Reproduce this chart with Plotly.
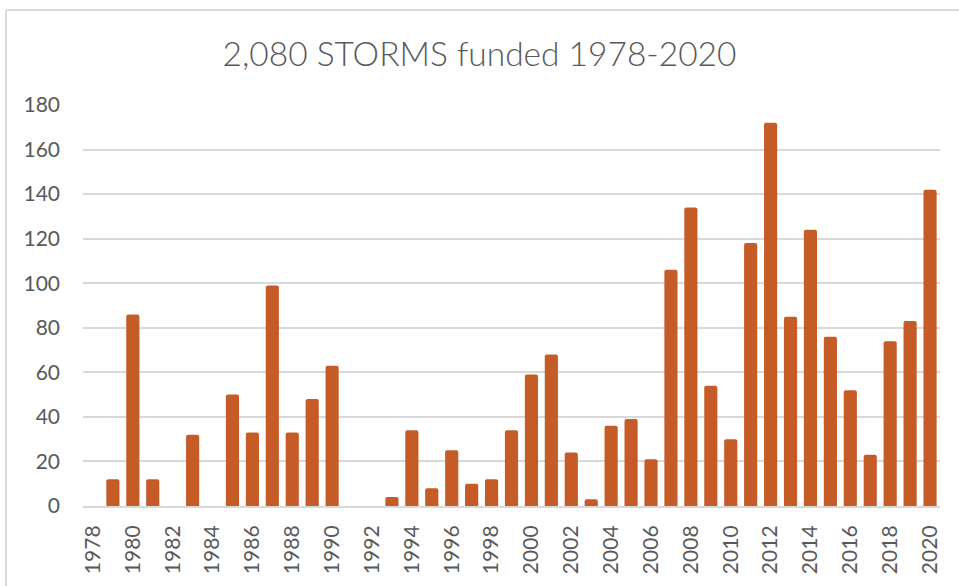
import plotly.graph_objects as go

years = list(range(1978, 2021))
storms = [0, 12, 86, 12, 0, 32, 0, 50, 33, 99, 33, 48, 63,
          0, 0, 4, 34, 8, 25, 10, 12, 34, 59, 68, 24, 3, 36, 39, 21,
          106, 134, 54, 30, 118, 172, 85, 124, 76, 52, 23, 74, 83, 142]
title_text = "2,080 STORMS funded 1978-2020"
y_ticks = list(range(0, 181, 20))
x_ticks = list(range(1978, 2021, 2))

BAR = "#C55C28"
GRID = "#D9D9D9"
TXT = "#595959"
FONT = "Lato"

fig = go.Figure(go.Bar(
    x=years, y=storms,
    marker=dict(color=BAR, line=dict(width=0), cornerradius=2),
    width=0.66,
))

W, H = 959, 586
ml, mr, mt, mb = 83, 19, 105, 76
pw, ph = W - ml - mr, H - mt - mb

def px_to_paper_x(px):
    return (px - ml) / pw

def px_to_paper_y(py):
    return (H - mb - py) / ph

fig.update_layout(
    width=W, height=H,
    margin=dict(l=ml, r=mr, t=mt, b=mb, pad=0),
    paper_bgcolor="white", plot_bgcolor="white",
    showlegend=False,
    font=dict(family=FONT, color=TXT, size=21),
    title=dict(text=title_text, x=0.5, xref="container", xanchor="center",
               y=1 - 54 / H, yanchor="middle",
               font=dict(family=FONT, size=33.5, color=TXT, weight=300)),
    bargap=0.34,
    shapes=[
        dict(type="line", xref="paper", yref="paper",
             x0=px_to_paper_x(6), x1=px_to_paper_x(970),
             y0=px_to_paper_y(9), y1=px_to_paper_y(9),
             line=dict(color=GRID, width=2)),
        dict(type="line", xref="paper", yref="paper",
             x0=px_to_paper_x(6), x1=px_to_paper_x(6),
             y0=px_to_paper_y(9), y1=px_to_paper_y(600),
             line=dict(color=GRID, width=2)),
    ],
)

fig.update_xaxes(
    type="linear", range=[1977.5, 2020.5],
    tickmode="array", tickvals=x_ticks, ticktext=[str(v) for v in x_ticks],
    tickangle=-90, showgrid=False, zeroline=False,
    showline=True, linecolor=GRID, linewidth=2, layer="above traces",
    ticks="", ticklabelstandoff=9,
    tickfont=dict(family=FONT, size=21, color=TXT),
)
fig.update_yaxes(
    range=[0, 180], tickmode="array", tickvals=y_ticks,
    showgrid=True, gridcolor=GRID, gridwidth=2, zeroline=False,
    showline=False, ticks="", ticklabelstandoff=22,
    tickfont=dict(family=FONT, size=21, color=TXT),
)

fig.write_html("out.html",
               config={"displayModeBar": False},
               post_script="document.body.style.margin='0';document.body.style.overflow='hidden';")
